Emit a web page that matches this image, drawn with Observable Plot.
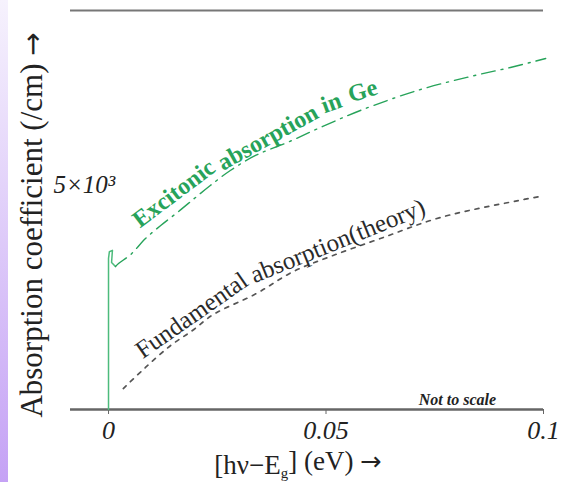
<!DOCTYPE html>
<html><head><meta charset="utf-8">
<script src="https://cdn.jsdelivr.net/npm/d3@7"></script>
<script src="https://cdn.jsdelivr.net/npm/@observablehq/plot@0.6"></script>
<style>
body{margin:0;background:#fff;}
#wrap{position:relative;width:563px;height:482px;overflow:hidden;}
#stripe{position:absolute;left:0;top:0;width:8px;height:482px;background:linear-gradient(to bottom,#f6f2fd,#c5a2f5);}
#chart{position:absolute;left:0;top:0;}
</style></head><body>
<div id="wrap"><div id="stripe"></div><div id="chart"></div></div>
<script>
// photon energy above gap (eV) and absorption coefficient (/cm, not to scale)
const excitonEdgeX = [0, 0, 0.0002, 0.0009, 0.0007, 0.0016];
const excitonEdgeY = [0, 3370, 3520, 3550, 3280, 3190];
const excitonX = [0.0016, 0.0023, 0.0051, 0.0085, 0.0120, 0.0161, 0.0200, 0.0234, 0.0280, 0.0338, 0.0411, 0.0487, 0.0579, 0.0710, 0.0832, 0.0924, 0.1005];
const excitonY = [3190, 3257, 3457, 3814, 4104, 4417, 4729, 4997, 5331, 5666, 5956, 6290, 6670, 7116, 7428, 7629, 7829];
const fundX = [0.0034, 0.0085, 0.0143, 0.0193, 0.0241, 0.0340, 0.0425, 0.0510, 0.0625, 0.0763, 0.0943, 0.0993];
const fundY = [468, 937, 1428, 1762, 2119, 2587, 3078, 3413, 3814, 4283, 4662, 4751];
const xTicks = [0, 0.05, 0.1];
const xTickLabels = ["0", "0.05", "0.1"];
const yMarkValue = 5000;
const yMarkLabel = "5×10³";
const xLabel = "[hν−Eg] (eV) →";
const yLabel = "Absorption coefficient (/cm) →";
const greenWords = ["Excitonic", "absorption", "in", "Ge"];
const greenWordX = [0.0150, 0.0366, 0.0512, 0.0584];
const greenWordY = [4820, 6070, 6840, 7110];
const greenWordRot = [-37, -29, -20, -17];
const blackWords = ["Fundamental", "absorption(theory)"];
const blackWordX = [0.0191, 0.0527];
const blackWordY = [2100, 3760];
const blackWordRot = [-35, -22];
const noteText = "Not to scale";
const noteX = 0.0802, noteY = 223;

const green = "#27a35a";
const zip = (xs, ys) => xs.map((x, i) => ({x, y: ys[i]}));
const edge = zip(excitonEdgeX, excitonEdgeY);
const exciton = zip(excitonX, excitonY);
const fund = zip(fundX, fundY);
const gWords = greenWords.map((t, i) => ({t, x: greenWordX[i], y: greenWordY[i], r: greenWordRot[i]}));
const bWords = blackWords.map((t, i) => ({t, x: blackWordX[i], y: blackWordY[i], r: blackWordRot[i]}));

const chart = Plot.plot({
  width: 563, height: 482,
  marginLeft: 70, marginRight: 20, marginTop: 10, marginBottom: 73,
  x: {domain: [-0.00874, 0.1]},
  y: {domain: [0, 8900], axis: null},
  style: {fontFamily: "Liberation Serif, Times New Roman, serif", background: "transparent", color: "#222"},
  marks: [
    Plot.ruleY([8900], {stroke: "#777", strokeWidth: 2}),
    Plot.ruleY([0], {stroke: "#666", strokeWidth: 2.5}),
    Plot.axisX(xTicks, {tickSize: 5, tickPadding: 6, fontSize: 26, fontStyle: "italic", stroke: "#666", fill: "#222",
      tickFormat: d => xTickLabels[xTicks.indexOf(d)], label: null}),
    Plot.line(edge, {x: "x", y: "y", stroke: "#4dbb7c", strokeWidth: 1.5}),
    Plot.line(exciton, {x: "x", y: "y", stroke: green, strokeWidth: 1.4, strokeDasharray: "14,6,2,6", curve: "catmull-rom"}),
    Plot.line(fund, {x: "x", y: "y", stroke: "#555", strokeWidth: 1.7, strokeDasharray: "4,6", curve: "catmull-rom"}),
    Plot.text(gWords, {x: "x", y: "y", text: "t", rotate: "r", fill: green, fontWeight: "bold", fontSize: 24}),
    Plot.text(bWords, {x: "x", y: "y", text: "t", rotate: "r", fill: "#2a2a2a", fontSize: 25}),
    Plot.text([yMarkLabel], {frameAnchor: "left", y: [yMarkValue], dx: -17, textAnchor: "start", fontSize: 25, fontStyle: "italic", fill: "#222"}),
    Plot.text([noteText], {x: [noteX], y: [noteY], fontSize: 16, fontStyle: "italic", fontWeight: "bold", fill: "#222"}),
    Plot.text([yLabel], {frameAnchor: "left", textAnchor: "middle", rotate: -90, dx: -38, dy: 15, fontSize: 31, fill: "#222"}),
    Plot.text([xLabel], {frameAnchor: "bottom", dx: -9, dy: 64, fontSize: 27, fill: "#222"})
  ]
});
document.getElementById("chart").appendChild(chart);

// subscript "g" in the x label, wider arrows in both axis labels
const texts = d3.select(chart).selectAll("text");
texts.filter(function() { return this.textContent === xLabel; }).each(function() {
  const t = d3.select(this);
  t.text(null);
  t.append("tspan").text("[hν−E");
  t.append("tspan").attr("dy", "0.3em").attr("font-size", "55%").text("g");
  t.append("tspan").attr("dy", "-0.3em").text("] (eV) ");
  t.append("tspan").attr("font-family", "DejaVu Sans").attr("font-size", "95%").text("→");
});
texts.filter(function() { return this.textContent === yLabel; }).each(function() {
  const t = d3.select(this);
  t.text(null);
  t.append("tspan").text("Absorption coefficient (/cm) ");
  t.append("tspan").attr("font-family", "DejaVu Sans").attr("font-size", "90%").text("→");
});
</script>
</body></html>
